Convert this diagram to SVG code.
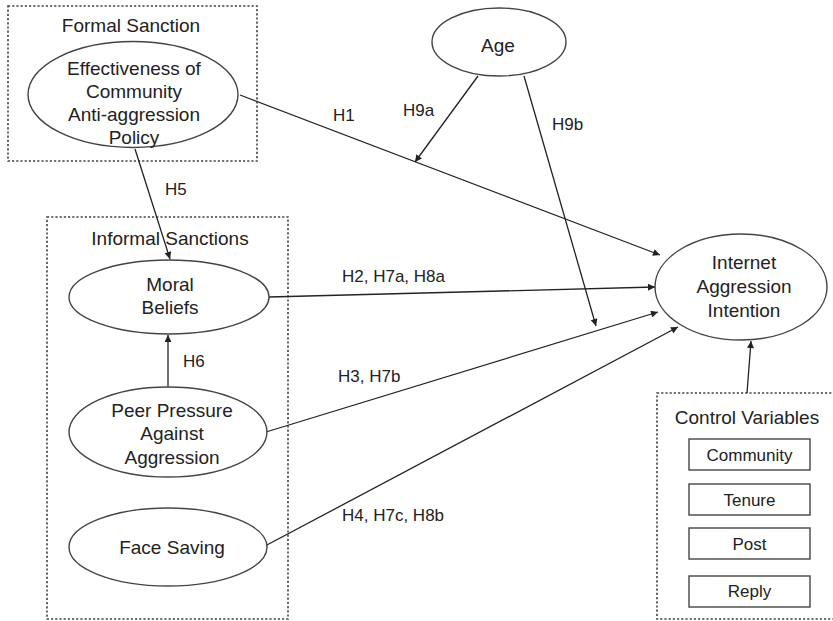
<svg xmlns="http://www.w3.org/2000/svg" width="833" height="621" viewBox="0 0 833 621">
<defs>
<marker id="arr" viewBox="0 0 10 10" refX="10" refY="5" markerWidth="8" markerHeight="7" markerUnits="userSpaceOnUse" orient="auto">
<path d="M0,0 L10,5 L0,10 z" fill="#222"/>
</marker>
</defs>
<style>
.grp{fill:none;stroke:#444;stroke-width:1.6;stroke-dasharray:2.2,2}
.node{fill:#fff;stroke:#444;stroke-width:1.4}
.box{fill:#fff;stroke:#444;stroke-width:1.4}
.t{font-family:"Liberation Sans",Arial,sans-serif;font-size:19px;fill:#222;text-anchor:middle}
.s{font-family:"Liberation Sans",Arial,sans-serif;font-size:17px;fill:#222}
.c{stroke:#222;stroke-width:1.3;fill:none;marker-end:url(#arr)}
</style>
<rect width="833" height="621" fill="#fff"/>
<g id="formal-group">
<rect class="grp" x="8" y="6" width="249" height="155"/>
<text class="t" x="131" y="32">Formal  Sanction</text>
</g>
<g id="informal-group">
<rect class="grp" x="47" y="217" width="241" height="402"/>
<text class="t" x="170" y="245">Informal  Sanctions</text>
</g>
<g id="control-group">
<rect class="grp" x="657" y="393" width="190" height="226"/>
<text class="t" x="747" y="424">Control Variables</text>
</g>
<g id="connectors">
<line class="c" x1="240" y1="95" x2="660" y2="255"/>
<line class="c" x1="478" y1="76" x2="415" y2="162"/>
<line class="c" x1="524" y1="76" x2="596" y2="326"/>
<line class="c" x1="135" y1="149" x2="170" y2="259"/>
<line class="c" x1="269" y1="297" x2="655" y2="287"/>
<line class="c" x1="168" y1="387" x2="168" y2="335"/>
<line class="c" x1="266" y1="432" x2="658" y2="312"/>
<line class="c" x1="265" y1="546" x2="678" y2="327"/>
<line class="c" x1="747" y1="393" x2="751" y2="341"/>
</g>
<g id="labels">
<text class="s" x="333" y="121">H1</text>
<text class="s" x="403" y="116">H9a</text>
<text class="s" x="552" y="130">H9b</text>
<text class="s" x="165" y="195">H5</text>
<text class="s" x="183" y="367">H6</text>
<text class="s" x="342" y="282">H2, H7a, H8a</text>
<text class="s" x="338" y="382">H3, H7b</text>
<text class="s" x="342" y="521">H4, H7c, H8b</text>
</g>
<g id="effectiveness">
<ellipse class="node" cx="133" cy="94.5" rx="105" ry="53" fill-opacity="0"/>
<text class="t" x="134" y="75">Effectiveness of</text>
<text class="t" x="134" y="98">Community</text>
<text class="t" x="134" y="121">Anti-aggression</text>
<text class="t" x="134" y="144">Policy</text>
</g>
<g id="age">
<ellipse class="node" cx="499" cy="42" rx="67" ry="34"/>
<text class="t" x="498" y="52">Age</text>
</g>
<g id="moral-beliefs">
<ellipse class="node" cx="169" cy="297" rx="100" ry="37"/>
<text class="t" x="170" y="291">Moral</text>
<text class="t" x="170" y="314">Beliefs</text>
</g>
<g id="peer-pressure">
<ellipse class="node" cx="168" cy="432" rx="99" ry="45"/>
<text class="t" x="172" y="417">Peer Pressure</text>
<text class="t" x="172" y="440">Against</text>
<text class="t" x="172" y="464">Aggression</text>
</g>
<g id="face-saving">
<ellipse class="node" cx="168" cy="547" rx="99" ry="39"/>
<text class="t" x="172" y="554">Face Saving</text>
</g>
<g id="internet-aggression">
<ellipse class="node" cx="741" cy="287" rx="86" ry="53"/>
<text class="t" x="744" y="269">Internet</text>
<text class="t" x="744" y="293">Aggression</text>
<text class="t" x="744" y="317">Intention</text>
</g>
<g id="community">
<rect class="box" x="689" y="439" width="121" height="31"/>
<text class="s" x="749.5" y="461" text-anchor="middle">Community</text>
</g>
<g id="tenure">
<rect class="box" x="689" y="484" width="121" height="31"/>
<text class="s" x="749.5" y="506" text-anchor="middle">Tenure</text>
</g>
<g id="post">
<rect class="box" x="689" y="528" width="121" height="31"/>
<text class="s" x="749.5" y="550" text-anchor="middle">Post</text>
</g>
<g id="reply">
<rect class="box" x="689" y="576" width="121" height="31"/>
<text class="s" x="749.5" y="597" text-anchor="middle">Reply</text>
</g>
</svg>
